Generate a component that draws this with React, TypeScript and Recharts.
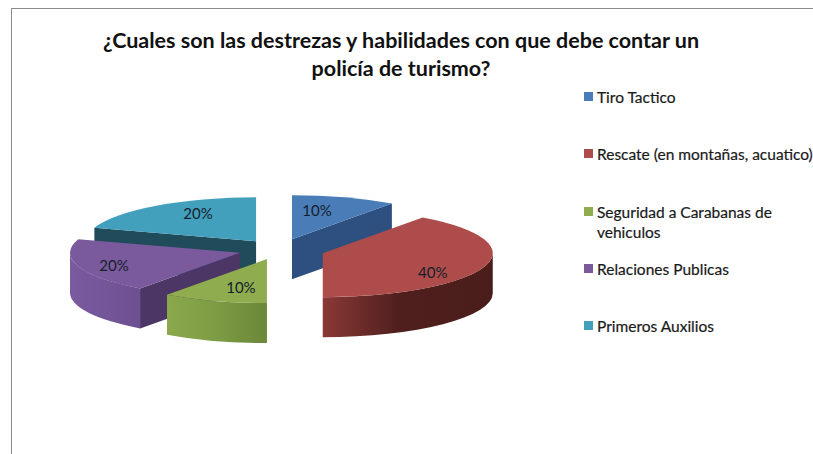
import React from 'react';
import { PieChart, Pie, Legend } from 'recharts';

const titleLines = [
  '¿Cuales son las destrezas y habilidades con que debe contar un',
  'policía de turismo?',
];
const categories = [
  'Tiro Tactico',
  'Rescate (en montañas, acuatico)',
  'Seguridad a Carabanas de vehiculos',
  'Relaciones Publicas',
  'Primeros Auxilios',
];
const shares = [10, 40, 10, 20, 20];

// Slices are painted in this order so nearer ones cover the farther walls
const paintOrder = [0, 4, 3, 2, 1];

const topColors = ['#4a7db8', '#ad4c4a', '#8fac4f', '#7a5a9c', '#43a0bc'];
const sideColors = ['#2d5080', '#6e2c2a', '#6b8739', '#4c3666', '#1f4b5b'];
const outerStops = [
  ['#2d5080', '#2d5080', '#2d5080'],
  ['#8a3936', '#4f1f1d', '#4a1d1b'],
  ['#8aa84b', '#7f9d44', '#6a8838'],
  ['#7b5a9e', '#75569a', '#6d5090'],
  ['#1f4b5b', '#1f4b5b', '#1f4b5b'],
];
const legendTops = [87, 144, 202, 259, 316];

// Distance each slice is pulled out from the pie centre
const explode = [42, 46, 39, 41, 39];
// Label position relative to the slice tip
const labelOffsets = [
  [25, -29],
  [110, 19],
  [-26, 28],
  [-126, 12],
  [-58, -28],
];

const WIDTH = 813;
const HEIGHT = 454;
const CX = 279;
const CY = 249.5;
const RX = 170;
const RY = 44;
const DEPTH = 40;
const SQUASH = RY / RX;
const RAD = Math.PI / 180;
const TEXT_FONT = 'Lato, sans-serif';

const pieData = paintOrder.map((i) => ({
  name: categories[i],
  value: shares[i],
  seriesIndex: i,
}));

const tipOf = (cx: number, cy: number, midAngle: number, seriesIndex: number) => ({
  x: cx + explode[seriesIndex] * Math.cos(midAngle * RAD),
  y: cy - explode[seriesIndex] * Math.sin(midAngle * RAD) * SQUASH,
});

const Slice3D = (props: any) => {
  const { cx, cy, startAngle, endAngle, payload } = props;
  const a0 = Math.min(startAngle, endAngle);
  const a1 = Math.max(startAngle, endAngle);
  const series = payload.seriesIndex;
  const tip = tipOf(cx, cy, (a0 + a1) / 2, series);
  const rim = (a: number) => ({
    x: tip.x + RX * Math.cos(a * RAD),
    y: tip.y - RY * Math.sin(a * RAD),
  });

  const start = rim(a0);
  const end = rim(a1);
  const large = a1 - a0 > 180 ? 1 : 0;
  const top = `M${tip.x} ${tip.y}L${start.x} ${start.y}A${RX} ${RY} 0 ${large} 0 ${end.x} ${end.y}Z`;

  // A cut face shows only if it looks towards the viewer
  const faces: number[] = [];
  if (Math.sin((a0 - 90) * RAD) < -0.01) faces.push(a0);
  if (Math.sin((a1 + 90) * RAD) < -0.01) faces.push(a1);

  // The rounded wall only exists on the lower half of the rim
  const lo = Math.max(a0, 180);
  const hi = Math.min(a1, 360);
  const loPt = rim(lo);
  const hiPt = rim(hi);
  const gradientId = `outer-wall-${series}`;

  return (
    <g>
      <defs>
        <linearGradient id={gradientId} x1="0" y1="0" x2="1" y2="0">
          <stop offset="0%" stopColor={outerStops[series][0]} />
          <stop offset="45%" stopColor={outerStops[series][1]} />
          <stop offset="100%" stopColor={outerStops[series][2]} />
        </linearGradient>
      </defs>
      {faces.map((a) => {
        const p = rim(a);
        return (
          <path
            key={a}
            d={`M${tip.x} ${tip.y}L${p.x} ${p.y}v${DEPTH}L${tip.x} ${tip.y + DEPTH}Z`}
            fill={sideColors[series]}
          />
        );
      })}
      {hi > lo && (
        <path
          d={`M${loPt.x} ${loPt.y}A${RX} ${RY} 0 0 0 ${hiPt.x} ${hiPt.y}v${DEPTH}A${RX} ${RY} 0 0 1 ${loPt.x} ${loPt.y + DEPTH}Z`}
          fill={`url(#${gradientId})`}
        />
      )}
      <path d={top} fill={topColors[series]} />
    </g>
  );
};

const SliceLabel = (props: any) => {
  const { cx, cy, midAngle, payload, value } = props;
  const series = payload.seriesIndex;
  const tip = tipOf(cx, cy, midAngle, series);
  return (
    <text
      x={tip.x + labelOffsets[series][0]}
      y={tip.y + labelOffsets[series][1]}
      textAnchor="middle"
      dominantBaseline="central"
      fontFamily={TEXT_FONT}
      fontSize={15}
      fill="#14202b"
    >
      {`${value}%`}
    </text>
  );
};

const LegendList = () => (
  <div style={{ position: 'relative', width: WIDTH, height: HEIGHT }}>
    {categories.map((name, i) => (
      <div
        key={name}
        style={{
          position: 'absolute',
          left: 584,
          top: legendTops[i],
          width: 229,
          display: 'flex',
          fontFamily: TEXT_FONT,
          fontSize: 15.5,
          lineHeight: '20px',
          color: '#1a1a1a',
          WebkitTextStroke: '0.2px #1a1a1a',
        }}
      >
        <span
          style={{
            flex: 'none',
            width: 9,
            height: 9,
            marginTop: 5,
            marginRight: 4,
            background: topColors[i],
          }}
        />
        <span style={{ width: 222 }}>{name}</span>
      </div>
    ))}
  </div>
);

export default function App() {
  return (
    <div style={{ position: 'absolute', left: 0, top: 0, width: WIDTH, height: HEIGHT, background: '#fff', overflow: 'hidden' }}>
      <div
        style={{
          position: 'absolute',
          left: 11,
          top: 8,
          width: WIDTH,
          height: HEIGHT,
          borderLeft: '1px solid #8c8c8c',
          borderTop: '1px solid #8c8c8c',
        }}
      />
      <PieChart
        width={WIDTH}
        height={HEIGHT}
        margin={{ top: 0, right: 0, bottom: 0, left: 0 }}
        style={{ position: 'absolute', left: 0, top: 0 }}
      >
        {titleLines.map((line, i) => (
          <text
            key={line}
            x={401}
            y={48 + i * 28}
            textAnchor="middle"
            fontFamily={TEXT_FONT}
            fontWeight={700}
            fontSize={21.5}
            fill="#111"
          >
            {line}
          </text>
        ))}
        <Pie
          data={pieData}
          dataKey="value"
          nameKey="name"
          cx={CX}
          cy={CY}
          outerRadius={RX}
          startAngle={54}
          endAngle={414}
          stroke="none"
          shape={Slice3D}
          label={SliceLabel}
          labelLine={false}
          isAnimationActive={false}
        />
        <Legend
          content={<LegendList />}
          wrapperStyle={{ position: 'absolute', left: 0, top: 0, width: WIDTH, height: HEIGHT, pointerEvents: 'none' }}
        />
      </PieChart>
    </div>
  );
}
